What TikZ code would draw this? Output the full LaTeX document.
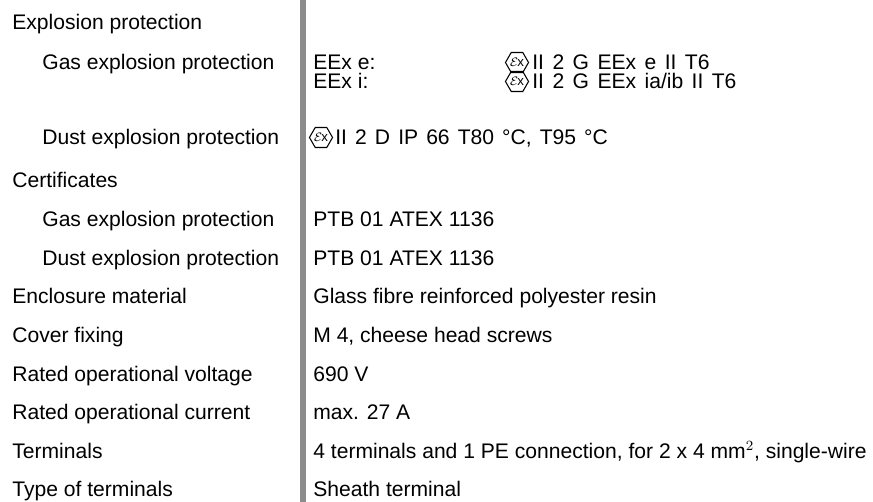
\documentclass[tikz,border=0pt]{standalone}
\usepackage{fontspec}
\setmainfont{Liberation Sans}
\usetikzlibrary{shapes.geometric,positioning}

\tikzset{
  lbl/.style={anchor=base west, inner sep=0pt, font=\fontsize{12}{14}\selectfont},
  exsign/.style={draw, line width=0.6pt, regular polygon, regular polygon sides=6,
    minimum size=0.33cm, inner sep=0pt, font=\fontsize{7.5}{7.5}\selectfont},
}

\begin{document}
\begin{tikzpicture}[x=0.02cm,y=-0.02cm]
\useasboundingbox (0,0) rectangle (873,502);
\fill[black!45] (300,0) rectangle (306,502);
% left column
\node[lbl] (expl) at (12,30) {Explosion protection};
\node[lbl] (gasexpl) at (42,70) {Gas explosion protection};
\node[lbl] (dustexpl) at (42,145) {Dust explosion protection};
\node[lbl] (cert) at (12,188) {Certificates};
\node[lbl] (gascert) at (42,226.6) {Gas explosion protection};
\node[lbl] (dustcert) at (42,265.3) {Dust explosion protection};
\node[lbl] (encl) at (12,303.9) {Enclosure material};
\node[lbl] (cover) at (12,342.5) {Cover fixing};
\node[lbl] (volt) at (12,381.1) {Rated operational voltage};
\node[lbl] (curr) at (12,419.8) {Rated operational current};
\node[lbl] (term) at (12,458.4) {Terminals};
\node[lbl] (ttype) at (12,497) {Type of terminals};
% right column
\node[lbl] (eexe) at (313,70) {EEx e:};
\node[exsign] (exe) at (517,62.5) {$\mathcal{E}$\kern-0.6pt x};
\node[lbl] (eexeval) at (532,70) {\spaceskip=4.8pt II 2 G EEx e II T6};
\node[lbl] (eexi) at (313,89) {EEx i:};
\node[exsign] (exi) at (517,81.5) {$\mathcal{E}$\kern-0.6pt x};
\node[lbl] (eexival) at (532,89) {\spaceskip=4.8pt II 2 G EEx ia/ib II T6};
\node[exsign] (exd) at (321,137.5) {$\mathcal{E}$\kern-0.6pt x};
\node[lbl] (dustval) at (335,145) {\spaceskip=4.6pt II 2 D IP 66 T80 °C, T95 °C};
\node[lbl] (gascertval) at (313,226.6) {PTB 01 ATEX 1136};
\node[lbl] (dustcertval) at (313,265.3) {PTB 01 ATEX 1136};
\node[lbl] (enclval) at (313,303.9) {Glass fibre reinforced polyester resin};
\node[lbl] (coverval) at (313,342.5) {M 4, cheese head screws};
\node[lbl] (voltval) at (313,381.1) {690 V};
\node[lbl] (currval) at (313,419.8) {max. 27 A};
\node[lbl] (termval) at (313,458.4) {4 terminals and 1 PE connection, for 2 x 4 mm$^2$, single-wire};
\node[lbl] (ttypeval) at (313,497) {Sheath terminal};
\end{tikzpicture}
\end{document}
